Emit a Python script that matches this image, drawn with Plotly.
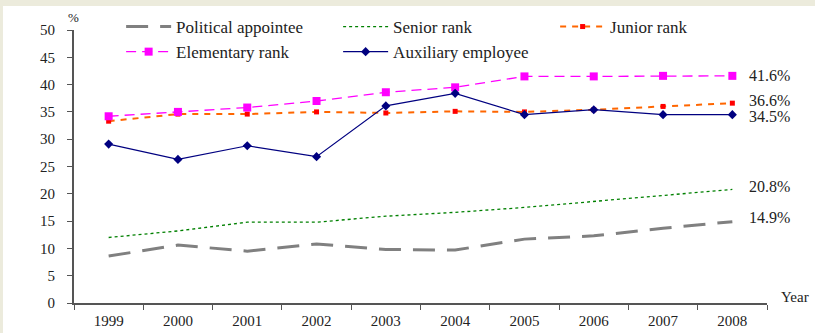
import plotly.graph_objects as go

years = ["1999", "2000", "2001", "2002", "2003", "2004", "2005", "2006", "2007", "2008"]

political_appointee = [8.6, 10.6, 9.5, 10.8, 9.8, 9.7, 11.7, 12.3, 13.7, 14.9]
senior_rank = [12.0, 13.2, 14.8, 14.8, 15.9, 16.6, 17.5, 18.6, 19.8, 20.8]
junior_rank = [33.3, 34.6, 34.6, 35.0, 34.8, 35.1, 35.0, 35.4, 36.0, 36.6]
elementary_rank = [34.2, 35.0, 35.8, 37.0, 38.6, 39.5, 41.5, 41.5, 41.6, 41.6]
auxiliary_employee = [29.1, 26.3, 28.8, 26.8, 36.1, 38.4, 34.5, 35.4, 34.5, 34.5]

end_labels = ["41.6%", "36.6%", "34.5%", "20.8%", "14.9%"]
end_values = [41.6, 36.6, 34.5, 20.8, 14.9]
# vertical nudges (px) so the labels don't collide
end_shift = [0, 3, -2, 3, 4]

FONT = "Liberation Serif, Times New Roman, serif"
TXT = "#222"

fig = go.Figure()
fig.add_trace(go.Scatter(x=years, y=political_appointee, name="Political appointee",
                         mode="lines", line=dict(color="#808080", width=3, dash="22px,12px")))
fig.add_trace(go.Scatter(x=years, y=senior_rank, name="Senior rank",
                         mode="lines", line=dict(color="#008000", width=1.3, dash="3px,3px")))
fig.add_trace(go.Scatter(x=years, y=junior_rank, name="Junior rank",
                         mode="lines+markers", line=dict(color="#FF6600", width=2, dash="6px,6px"),
                         marker=dict(symbol="square", size=5, color="#FF0000")))
fig.add_trace(go.Scatter(x=years, y=elementary_rank, name="Elementary rank",
                         mode="lines+markers", line=dict(color="#FF00FF", width=1.3, dash="10px,6px"),
                         marker=dict(symbol="square", size=8, color="#FF00FF")))
fig.add_trace(go.Scatter(x=years, y=auxiliary_employee, name="Auxiliary employee",
                         mode="lines+markers", line=dict(color="#000080", width=1.2),
                         marker=dict(symbol="diamond", size=7, color="#000080")))

last_idx = len(years) - 1
for txt, v, s in zip(end_labels, end_values, end_shift):
    fig.add_annotation(x=last_idx, y=v, xref="x", yref="y", text=txt, showarrow=False,
                       xanchor="left", xshift=15, yshift=s,
                       font=dict(family=FONT, size=16, color=TXT))

fig.add_annotation(x=-0.001, y=1.012, xref="paper", yref="paper", text="%", showarrow=False,
                   xanchor="center", yanchor="bottom", font=dict(family=FONT, size=13, color=TXT))
fig.add_annotation(x=1.04, y=0.022, xref="paper", yref="paper", text="Year", showarrow=False,
                   xanchor="center", yanchor="middle", font=dict(family=FONT, size=15, color=TXT))

# white panel on beige frame
fig.add_shape(type="rect", xref="paper", yref="paper", x0=-0.1025, x1=1.1, y0=-0.2, y1=1.088,
              fillcolor="white", line=dict(width=0), layer="below")

fig.update_layout(
    width=815, height=333,
    margin=dict(l=74, r=48, t=30, b=30, autoexpand=False),
    paper_bgcolor="#ECEBDC", plot_bgcolor="white",
    font=dict(family=FONT, size=15, color=TXT),
    showlegend=True,
    legend=dict(orientation="h", x=0.068, y=0.973, yref="container",
                xanchor="left", yanchor="top",
                entrywidth=157, entrywidthmode="pixels", bgcolor="rgba(0,0,0,0)",
                font=dict(family=FONT, size=17, color=TXT), itemwidth=45, tracegroupgap=0),
)
fig.update_xaxes(type="category", range=[-0.5, 9.5], showgrid=False, showline=True,
                 linecolor="#555", linewidth=2, ticks="outside", ticklen=5, tickcolor="#555",
                 tickson="boundaries", ticklabelstandoff=3, zeroline=False, automargin=False,
                 tickfont=dict(family=FONT, size=15, color=TXT))
fig.update_yaxes(range=[0, 50], dtick=5, showgrid=False, showline=True, linecolor="#555",
                 linewidth=2, ticks="outside", ticklen=5, tickcolor="#555", zeroline=False,
                 automargin=False, ticklabelstandoff=9,
                 tickfont=dict(family=FONT, size=15, color=TXT))

fig.write_html("out.html")
